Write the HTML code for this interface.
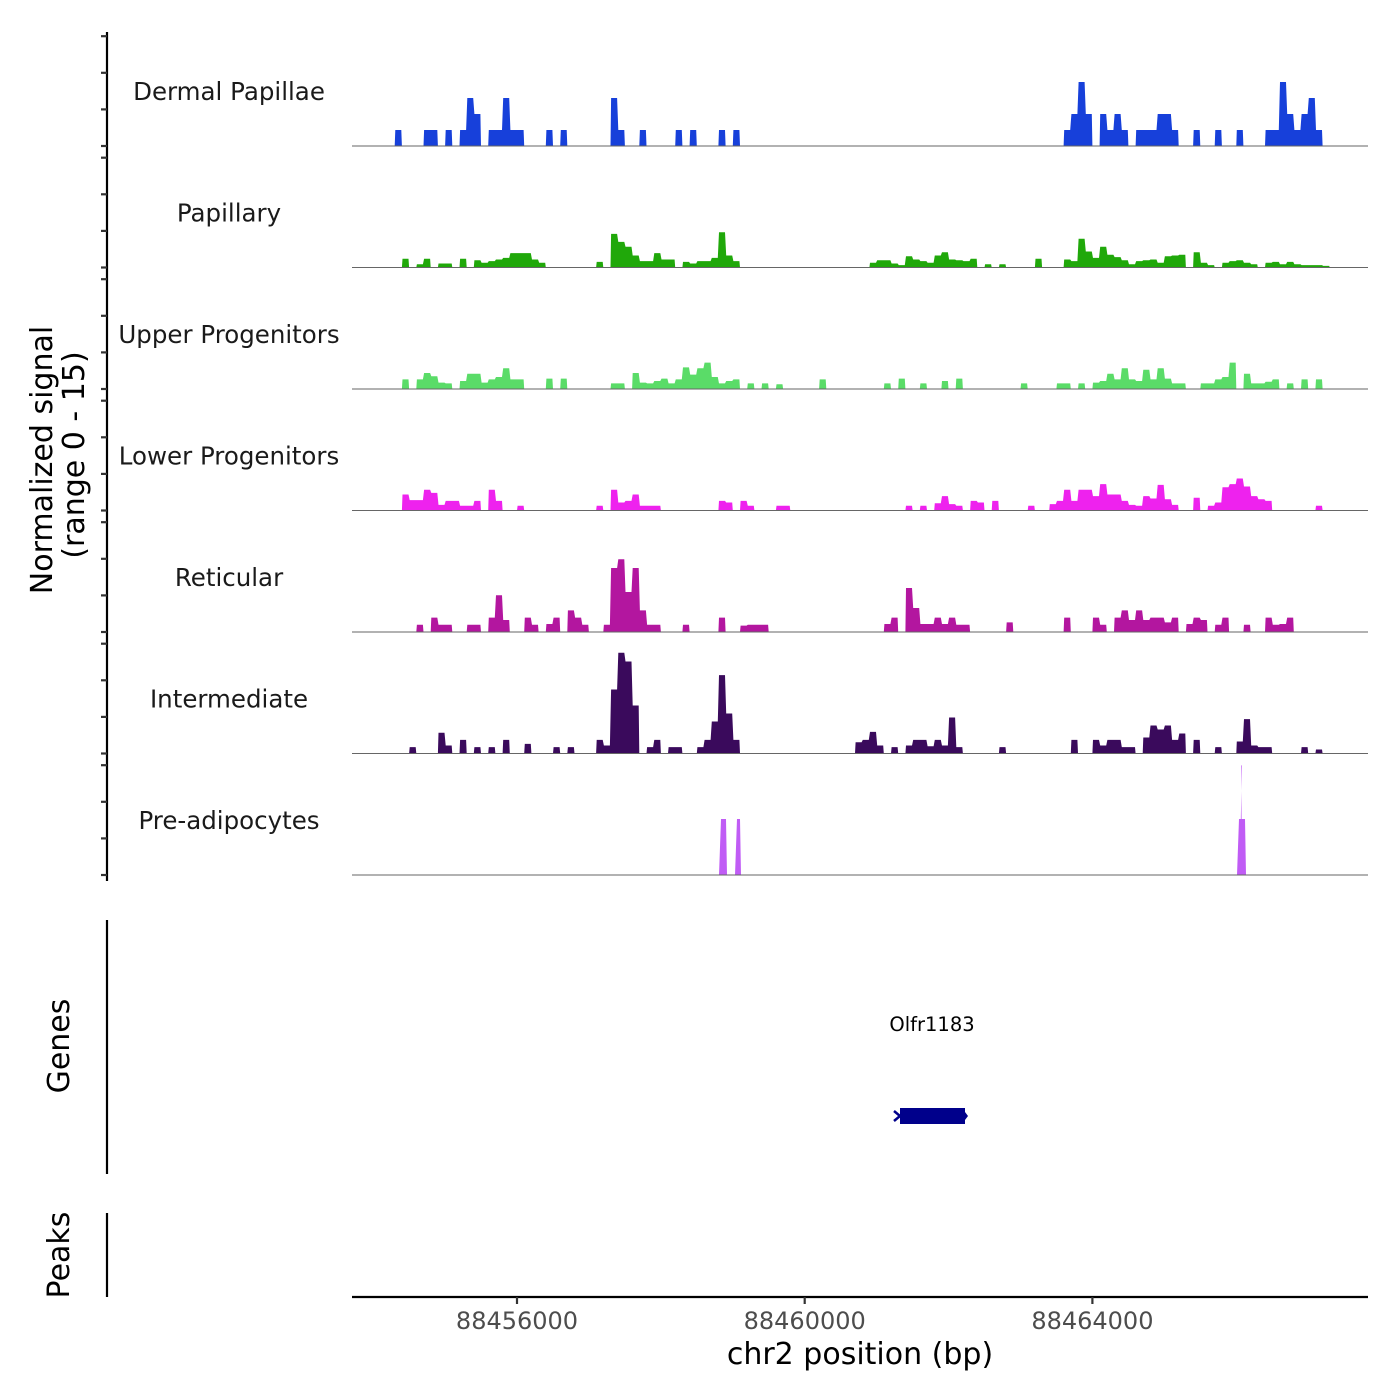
<!DOCTYPE html>
<html><head><meta charset="utf-8"><style>
html,body{margin:0;padding:0;background:#fff;}
svg{display:block;font-family:"DejaVu Sans","Liberation Sans",sans-serif;}
</style></head><body>
<svg id="chart" width="1400" height="1400" viewBox="0 0 1400 1400" xmlns="http://www.w3.org/2000/svg">
<rect width="1400" height="1400" fill="#fff"/>
<g id="tracks"></g>
<g id="yaxis"></g>
<text transform="translate(52,460) rotate(-90)" text-anchor="middle" font-size="30" fill="#000">Normalized signal</text>
<text transform="translate(84,455) rotate(-90)" text-anchor="middle" font-size="30" fill="#000">(range 0 - 15)</text>
<line x1="107" y1="920" x2="107" y2="1174" stroke="#000" stroke-width="2.2"/>
<text transform="translate(69,1046) rotate(-90)" text-anchor="middle" font-size="30" fill="#000">Genes</text>
<line x1="107" y1="1213" x2="107" y2="1297" stroke="#000" stroke-width="2.2"/>
<text transform="translate(69,1255) rotate(-90)" text-anchor="middle" font-size="30" fill="#000">Peaks</text>
<text x="932" y="1031" text-anchor="middle" font-size="19.5" fill="#000">Olfr1183</text>
<g>
<rect x="900" y="1108" width="65" height="16" fill="#00008B"/>
<path d="M894,1111 L900,1116 L894,1121" fill="none" stroke="#00008B" stroke-width="2.5"/>
<path d="M965,1112 L968,1116 L965,1120Z" fill="#00008B"/>
</g>
<g id="xaxis"></g>
<text x="860" y="1364" text-anchor="middle" font-size="30" fill="#000">chr2 position (bp)</text>
</svg>
<script>
const binStart = 88454300;
const binSize = 100;
const trackNames = ["Dermal Papillae","Papillary","Upper Progenitors","Lower Progenitors","Reticular","Intermediate","Pre-adipocytes"];
const xTicks = [88456000, 88460000, 88464000];
const yTickValues = [0, 5, 10, 15];
const dermalCov = [[0,2],[4,2],[5,2],[7,2],[9,2],[10,6],[11,4],[13,2],[14,2],[15,6],[16,2],[17,2],[21,2],[23,2],[30,6],[31,2],[34,2],[39,2],[41,2],[45,2],[47,2],[93,2],[94,4],[95,8],[96,4],[98,4],[99,2],[100,4],[101,2],[103,2],[104,2],[105,2],[106,4],[107,4],[108,2],[111,2],[114,2],[117,2],[121,2],[122,2],[123,8],[124,4],[125,2],[126,4],[127,6],[128,2]];
const papillaryCov = [[1,1.1],[3,.4],[4,1.1],[6,.5],[7,.5],[9,1.1],[11,.9],[12,.6],[13,.8],[14,1],[15,1.2],[16,1.8],[17,1.8],[18,1.8],[19,1],[20,.6],[28,.7],[30,4.2],[31,3.2],[32,2.6],[33,1.5],[34,.8],[35,.8],[36,1.8],[37,1],[38,1],[40,.7],[41,.5],[42,.8],[43,.8],[44,1.2],[45,4.4],[46,1.5],[47,.8],[66,.6],[67,.9],[68,.9],[69,.5],[70,.3],[71,1.4],[72,1],[73,.8],[74,.6],[75,1.5],[76,1.9],[77,1],[78,.9],[79,.8],[80,1.1],[82,.4],[84,.4],[89,1.1],[93,1],[94,.8],[95,3.6],[96,2],[97,1.2],[98,2.6],[99,1.6],[100,1.3],[101,.9],[102,.4],[103,.8],[104,.9],[105,1],[106,.6],[107,1.4],[108,1.5],[109,1.6],[111,1.9],[112,.6],[113,.3],[115,.6],[116,.8],[117,.9],[118,.6],[119,.4],[121,.6],[122,.7],[123,.4],[124,.7],[125,.4],[126,.3],[127,.3],[128,.3],[129,.2]];
const upperCov = [[1,1.2],[3,1.2],[4,2],[5,1.6],[6,.8],[7,.7],[9,1],[10,1.9],[11,1.9],[12,.8],[13,1.2],[14,1.5],[15,2.6],[16,1.2],[17,1.2],[21,1.3],[23,1.3],[30,.7],[31,.7],[33,2],[34,.8],[35,.7],[36,1],[37,1.3],[38,.7],[39,1.2],[40,2.7],[41,1.8],[42,2.6],[43,3.3],[44,1.5],[45,.7],[46,1],[47,1.2],[49,.7],[51,.7],[53,.6],[59,1.2],[68,.7],[70,1.3],[73,.7],[76,1],[78,1.3],[87,.7],[92,.7],[93,.7],[95,.7],[97,.8],[98,1],[99,1.9],[100,1.2],[101,2.6],[102,1.2],[103,1],[104,2.4],[105,1.2],[106,2.6],[107,1.3],[108,.7],[109,.7],[112,.7],[113,.7],[114,1.2],[115,1.5],[116,3.3],[118,1.9],[119,.7],[120,.7],[121,.9],[122,1.2],[124,.7],[126,1.2],[128,1.2]];
const lowerCov = [[1,2],[2,1.3],[3,1.3],[4,2.6],[5,2.2],[6,.7],[7,1.2],[8,1.2],[9,.6],[10,.6],[11,1.2],[13,2.6],[14,1.2],[17,.6],[28,.6],[30,2.6],[31,1],[32,1.2],[33,2],[34,.6],[35,.6],[36,.6],[45,1.2],[46,1],[48,1.2],[49,.6],[53,.6],[54,.6],[71,.6],[73,.6],[75,.9],[76,1.8],[77,.8],[78,.6],[80,1.2],[81,1],[83,1.2],[88,.6],[91,.8],[92,1.2],[93,2.6],[94,1.2],[95,2.6],[96,2.6],[97,1.8],[98,3.3],[99,2],[100,2],[101,1.2],[102,.7],[103,.6],[104,1.8],[105,1.5],[106,3.2],[107,1.4],[108,.7],[111,1.6],[113,.6],[114,1],[115,2.9],[116,3.3],[117,4],[118,3],[119,1.8],[120,1.4],[121,1.2],[128,.6]];
const reticularCov = [[3,.9],[5,1.8],[6,.9],[7,.9],[10,.9],[11,.9],[13,1.8],[14,4.6],[15,1.5],[18,1.8],[19,.9],[21,1],[22,1.8],[24,2.7],[25,1.8],[26,.9],[29,.9],[30,8],[31,9.1],[32,5],[33,8],[34,2.7],[35,.9],[36,.9],[40,.9],[45,1.8],[48,.8],[49,.9],[50,.9],[51,.9],[68,1],[69,1.8],[71,5.5],[72,3],[73,1],[74,1],[75,1.8],[76,1],[77,1.8],[78,.9],[79,.9],[85,1.2],[93,1.8],[97,1.8],[98,.9],[100,1.8],[101,2.7],[102,1.5],[103,2.7],[104,1.5],[105,1.8],[106,1.8],[107,1.2],[108,1.8],[110,1],[111,1.8],[112,1.5],[114,.9],[115,1.8],[118,.9],[121,1.8],[122,.9],[123,1],[124,1.8]];
const intermediateCov = [[2,.8],[6,2.6],[7,1],[9,1.7],[11,.8],[13,.8],[15,1.7],[18,1.2],[22,.8],[24,.8],[28,1.7],[29,1],[30,8],[31,12.6],[32,11.5],[33,6],[35,.8],[36,1.7],[38,.8],[39,.8],[42,.8],[43,1.7],[44,4],[45,9.8],[46,5],[47,1.7],[64,1.4],[65,1.7],[66,2.7],[67,1],[69,.8],[71,1],[72,1.7],[73,1.7],[74,.9],[75,1.7],[76,1],[77,4.5],[78,.8],[84,.8],[94,1.7],[97,1.7],[98,1],[99,1.7],[100,1.7],[101,.8],[102,.8],[104,2],[105,3.5],[106,3],[107,3.5],[108,1.7],[109,2.5],[111,1.7],[114,.8],[117,1.5],[118,4.3],[119,1],[120,.8],[121,.8],[126,.8],[128,.5]];
const preadipoSegments = [[88458809,88458920,7],[88459031,88459115,7],[88466011,88466136,7],[88466050,88466082,13.7]];

const colors = ["#1740DA","#20A80A","#5ADC68","#EE22EE","#B3169F","#3A0A5C","#C05CF5"];
const covs = [dermalCov,papillaryCov,upperCov,lowerCov,reticularCov,intermediateCov];
const NS = "http://www.w3.org/2000/svg";
const X0 = 352, X1 = 1368;
function xScale(bp){ return 517 + (bp - 88456000) * (287.7/4000); }
function baseY(k){ return 146 + 121.5 * k; }
function yScale(k, v){ return baseY(k) - v * (109.8/13.72); }
function mk(tag, attrs, parent){ const e=document.createElementNS(NS,tag); for(const a in attrs) e.setAttribute(a,attrs[a]); parent.appendChild(e); return e; }

const tracks = document.getElementById('tracks');
const slug = n => n.toLowerCase().replace(/[^a-z]+/g,'-');
trackNames.forEach((name,k)=>{
  const g = mk('g',{},tracks);
  
  
  const lbl = mk('text',{x:229,y:baseY(k)-46,'text-anchor':'middle','font-size':24.5,fill:'#1a1a1a'},g);
  
  
  lbl.textContent = name;
  let d = '';
  if (k < 6) {
    const vals = new Map(covs[k]);
    let i = 0;
    while (i < 131) {
      if (vals.get(i) > 0) {
        let s = i;
        d += 'M' + xScale(binStart + s*binSize).toFixed(1) + ',' + baseY(k);
        while (vals.get(i) > 0) {
          const xa = xScale(binStart + i*binSize), xb = xScale(binStart + (i+1)*binSize);
          const y = yScale(k, vals.get(i)).toFixed(1);
          d += 'L' + (xa+0.6).toFixed(1) + ',' + y + 'L' + (xb-0.6).toFixed(1) + ',' + y;
          i++;
        }
        d += 'L' + xScale(binStart + i*binSize).toFixed(1) + ',' + baseY(k) + 'Z';
      } else i++;
    }
  } else {
    preadipoSegments.forEach(s=>{
      const xa = xScale(s[0]), xb = xScale(s[1]), y = yScale(k, s[2]);
      d += 'M' + xa.toFixed(1) + ',' + baseY(k) + 'L' + (xa+2).toFixed(1) + ',' + y.toFixed(1) + 'L' + (xb-1).toFixed(1) + ',' + y.toFixed(1) + 'L' + xb.toFixed(1) + ',' + baseY(k) + 'Z';
    });
  }
  const p = mk('path',{d:d,fill:colors[k]},g);
  
  
  const bl = mk('line',{x1:X0,x2:X1,y1:baseY(k),y2:baseY(k),stroke:'#666','stroke-width':1},g);
  
  
});

const yaxis = document.getElementById('yaxis');
const yl = mk('line',{x1:107,x2:107,y1:32,y2:881,stroke:'#000','stroke-width':2.2},yaxis);


trackNames.forEach((name,k)=>{
  yTickValues.forEach(v=>{
    const y = baseY(k) - v * (109.8/15);
    const t = mk('line',{x1:101,x2:107,y1:y,y2:y,stroke:'#333','stroke-width':2.2},yaxis);
    
    
  });
});

const xaxis = document.getElementById('xaxis');
const xl = mk('line',{x1:X0,x2:X1,y1:1297,y2:1297,stroke:'#000','stroke-width':2.2},xaxis);


xTicks.forEach(v=>{
  const x = xScale(v);
  const t = mk('line',{x1:x,x2:x,y1:1297,y2:1304,stroke:'#333','stroke-width':2.2},xaxis);
  
  
  const tl = mk('text',{x:x,y:1329,'text-anchor':'middle','font-size':24,fill:'#4d4d4d'},xaxis);
  
  
  tl.textContent = String(v);
});
</script>
</body></html>
